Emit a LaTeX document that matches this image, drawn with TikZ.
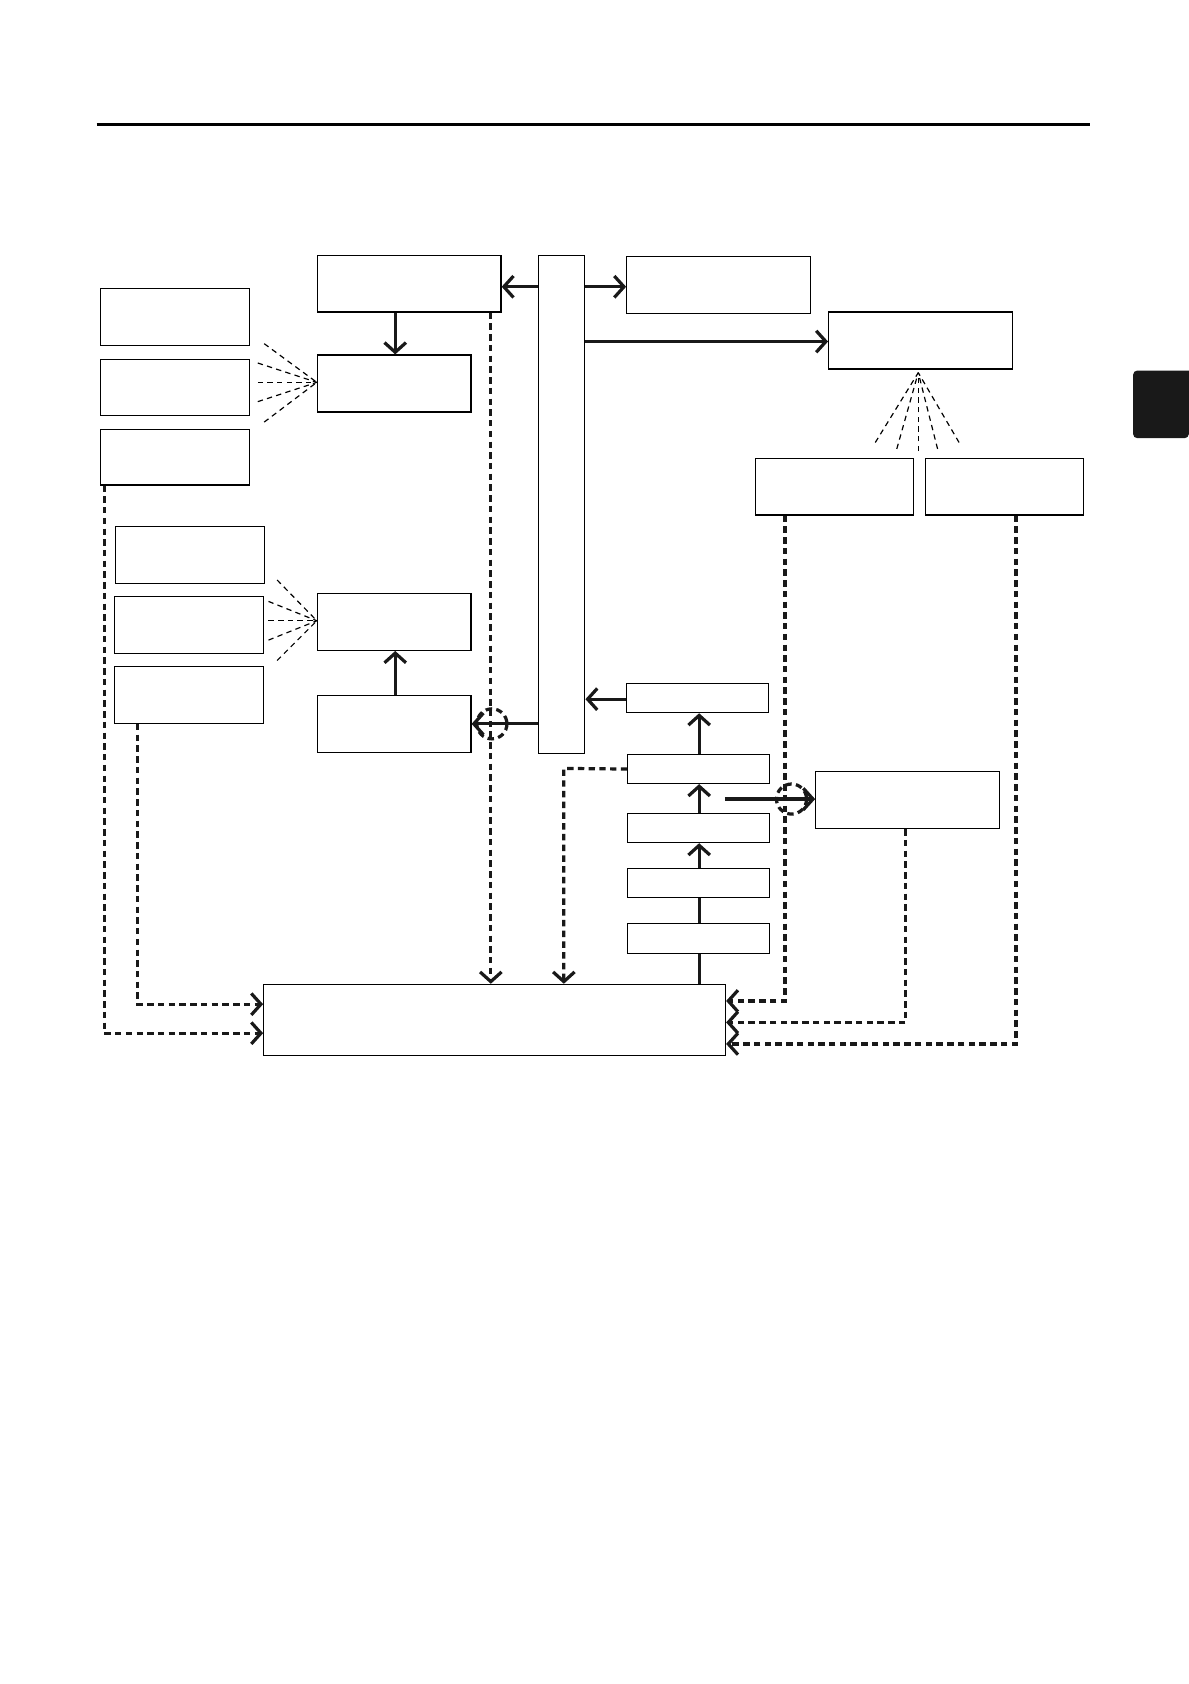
\documentclass[tikz,border=0pt]{standalone}
\usetikzlibrary{arrows.meta}
\begin{document}
\begin{tikzpicture}[x=1pt,y=-1pt,
  box/.style={draw,line width=1.1pt,inner sep=0,anchor=north west},
  tl/.style={line width=3pt,draw=black!90},
  arr/.style={tl,-{Straight Barb[length=9pt,width=20pt,line width=3pt]}},
  darr/.style={arr,dash pattern=on 6pt off 4pt},
  dline/.style={tl,dash pattern=on 6pt off 4pt},
  fan/.style={line width=1.1pt,dash pattern=on 5pt off 4pt}]
\useasboundingbox (0,0) rectangle (1107,1568);
\newcommand\bx[5]{\node[box,minimum width=#4-#2,minimum height=#5-#3] (#1) at (#2,#3) {};}
\draw[line width=3pt] (90,116) -- (1015,116);
\fill[black!90,rounded corners=4pt] (1107,345) -- (1055,345) -- (1055,408) -- (1107,408) [sharp corners] -- cycle;
\bx{A}{295}{237}{466}{290}
\bx{B}{295}{330}{438}{383}
\bx{La}{93}{268}{232}{321}
\bx{Lb}{93}{334}{232}{386}
\bx{Lc}{93}{399}{232}{451}
\bx{Ld}{107}{490}{246}{543}
\bx{Le}{106}{555}{245}{608}
\bx{Lf}{106}{620}{245}{673}
\bx{C}{295}{552}{438}{605}
\bx{D}{295}{647}{438}{700}
\bx{Bus}{501}{237}{544}{701}
\bx{E}{583}{238}{754}{291}
\bx{F}{771}{290}{942}{343}
\bx{Ga}{703}{426}{850}{479}
\bx{Gb}{861}{426}{1008}{479}
\bx{Sa}{583}{636}{715}{663}
\bx{Sb}{584}{702}{716}{729}
\bx{Sc}{584}{757}{716}{784}
\bx{Sd}{584}{808}{716}{835}
\bx{Se}{584}{859}{716}{887}
\bx{H}{759}{718}{930}{771}
\bx{Bot}{245}{916}{675}{982}
\coordinate (bp) at (295,356);
\coordinate (cp) at (295,578);
\coordinate (fp) at (855,347);
% solid connectors
\draw[arr] (Bus.west|-0,267) -- (A.east|-0,267);
\draw[arr] (Bus.east|-0,267) -- (E.west|-0,267);
\draw[arr] (Bus.east|-0,318) -- (F.west|-0,318);
\draw[arr] (A.south-|368,0) -- (B.north-|368,0);
\draw[arr] (D.north-|368,0) -- (C.south-|368,0);
\draw[arr] (Bus.west|-0,674) -- (D.east|-0,674);
\draw[arr] (Sa.west|-0,651) -- (Bus.east|-0,651);
\draw[arr] (Sb.north-|651,0) -- (Sa.south-|651,0);
\draw[arr] (Sc.north-|651,0) -- (Sb.south-|651,0);
\draw[arr] (Sd.north-|651,0) -- (Sc.south-|651,0);
\draw[tl] (Se.north-|651,0) -- (Sd.south-|651,0);
\draw[tl] (Bot.north-|651,0) -- (Se.south-|651,0);
\coordinate (hs) at (675,744);
\draw[arr] (hs) -- (H.west|-hs);
% fans
\foreach \p in {(246,320),(240,338),(240,356),(240,374),(246,393)} \draw[fan] \p -- (bp);
\foreach \p in {(258,540),(250,560),(250,578),(250,596),(258,615)} \draw[fan] \p -- (cp);
\foreach \p in {(815,412),(835,418),(855,420),(873,418),(893,412)} \draw[fan] \p -- (fp);
% dashed connectors
\draw[darr] (A.south-|457,0) -- (Bot.north-|457,0);
\draw[dline] (458,674) circle (14);
\draw[darr] (Sb.west) -- (525,715.5) -- (Bot.north-|525,0);
\draw[darr] (Ga.south-|731,0) -- (731,932) -- (Bot.east|-0,932);
\draw[dline] (737,744) circle (14);
\draw[darr] (H.south-|843,0) -- (843,952) -- (Bot.east|-0,952);
\draw[darr] (Gb.south-|946,0) -- (946,972) -- (Bot.east|-0,972);
\draw[darr] (Lf.south-|128,0) -- (128,935) -- (Bot.west|-0,935);
\draw[darr] (Lc.south-|97,0) -- (97,962) -- (Bot.west|-0,962);
\end{tikzpicture}
\end{document}
